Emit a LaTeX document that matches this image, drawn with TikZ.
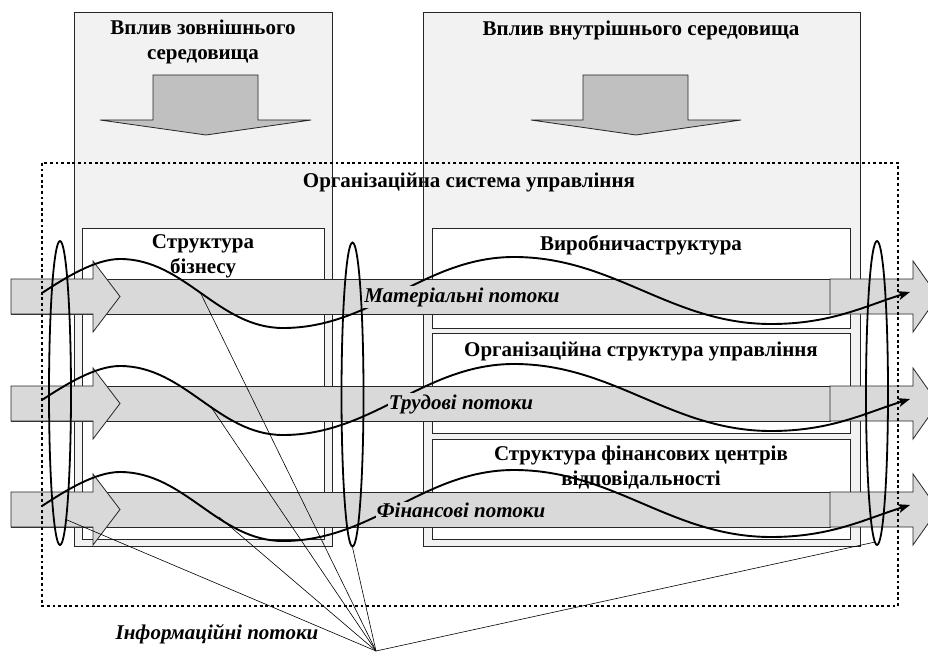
\documentclass[tikz,border=0pt]{standalone}
\usepackage{fontspec}
\setmainfont{Liberation Serif}
\usetikzlibrary{shapes.geometric, positioning, arrows.meta}
\definecolor{panel}{HTML}{F2F2F2}
\definecolor{band}{HTML}{D9D9D9}
\definecolor{push}{HTML}{C0C0C0}
\tikzset{
  title/.style={font=\fontsize{21}{25}\selectfont\bfseries, align=center, inner sep=0pt},
  panelbox/.style={draw=black!85, line width=0.8pt},
  unitbox/.style={panelbox, fill=white, inner sep=0pt},
  flowbar/.style={draw=black!85, line width=0.8pt, fill=band},
  flowlabel/.style={font=\fontsize{21}{25}\selectfont\bfseries\itshape, fill=band, inner sep=1pt},
  ring/.style={ellipse, draw, line width=1.8pt, minimum width=22pt, minimum height=304pt, inner sep=0pt},
  wave/.style={line width=1.9pt, -{Stealth[length=12pt,width=9pt,inset=3pt]}},
  info/.style={line width=0.6pt},
}

\begin{document}
\begin{tikzpicture}[x=1pt,y=-1pt]
  \useasboundingbox (0,0) rectangle (928,652);

  % columns of influence
  \fill[panel] (74,12) rectangle (332,546);
  \fill[panel] (423,12) rectangle (860,546);
  \node[title] (outer)  at (203,42)  {Вплив зовнішнього\\середовища};
  \node[title] (inner)  at (641,30)  {Вплив внутрішнього середовища};
  \node[title] (system) at (469,182) {Організаційна система управління};
  \draw[panelbox] (74,12) rectangle (332,546);
  \draw[panelbox] (423,12) rectangle (860,546);

  % structures
  \node[unitbox, minimum width=242pt, minimum height=311pt] (biz)  at (203,383.5) {};
  \node[unitbox, minimum width=418pt, minimum height=100pt] (prod) at (641,278)   {};
  \node[unitbox, minimum width=418pt, minimum height=100pt] (org)  at (641,383)   {};
  \node[unitbox, minimum width=418pt, minimum height=100pt] (fin)  at (641,489)   {};
  \node[title, below=7pt of biz.north]  {Структура\\бізнесу};
  \node[title, below=8pt of prod.north] {Виробничаструктура};
  \node[title, below=9pt of org.north]  {Організаційна структура управління};
  \node[title, below=7pt of fin.north]  {Структура фінансових центрів\\відповідальності};

  % pressure arrows
  \draw[panelbox, fill=push] (153,75) -- (258,75) -- (258,120) -- (311,120) -- (206,135)
    -- (100,120) -- (153,120) -- cycle;
  \draw[panelbox, fill=push] (583,75) -- (688,75) -- (688,120) -- (741,120) -- (636,135)
    -- (531,120) -- (583,120) -- cycle;

  % flows
  \foreach \d in {0,107,213}{
    \draw[flowbar] (11,279+\d) rectangle (830,314+\d);
    \draw[flowbar] (11,279+\d) -- (93,279+\d) -- (93,261+\d) -- (120,296.5+\d)
      -- (93,332+\d) -- (93,314+\d) -- (11,314+\d) -- cycle;
    \draw[flowbar] (830,279+\d) -- (913,279+\d) -- (913,261+\d) -- (938,296.5+\d)
      -- (913,332+\d) -- (913,314+\d) -- (830,314+\d) -- cycle;
  }

  % control system border
  \draw[line width=2.8pt, dash pattern=on 2.8pt off 2.8pt] (42,163) rectangle (898,606);

  \foreach \d in {0,107,213}{
    \draw[wave] (42,293+\d) .. controls (65,278+\d) and (95,259+\d) .. (120,259+\d)
      .. controls (185,259+\d) and (218,328+\d) .. (283,328+\d)
      .. controls (373,328+\d) and (424,257+\d) .. (514,257+\d)
      .. controls (614,257+\d) and (671,324+\d) .. (771,324+\d)
      .. controls (831,324+\d) and (865,306+\d) .. (910,292+\d);
  }

  \node[ring] (ringL) at (60,393)    {};
  \node[ring] (ringM) at (352.5,394.5) {};
  \node[ring] (ringR) at (877,393)   {};

  \node[flowlabel] (mat)  at (462,297) {Матеріальні потоки};
  \node[flowlabel] (lab)  at (461,404) {Трудові потоки};
  \node[flowlabel] (cash) at (461,510) {Фінансові потоки};

  % information flows
  \coordinate (info) at (376,651);
  \coordinate (hit1) at (201,294);
  \coordinate (hit2) at (211,407);
  \coordinate (hit3) at (219,517);
  \node[flowlabel, fill=none, inner sep=0pt] (infolabel) at (217,634) {Інформаційні потоки};
  \foreach \t in {ringL.-87, hit1, hit2, hit3, ringM.south, ringR.-91}
    \draw[info] (info) -- (\t);
\end{tikzpicture}
\end{document}
